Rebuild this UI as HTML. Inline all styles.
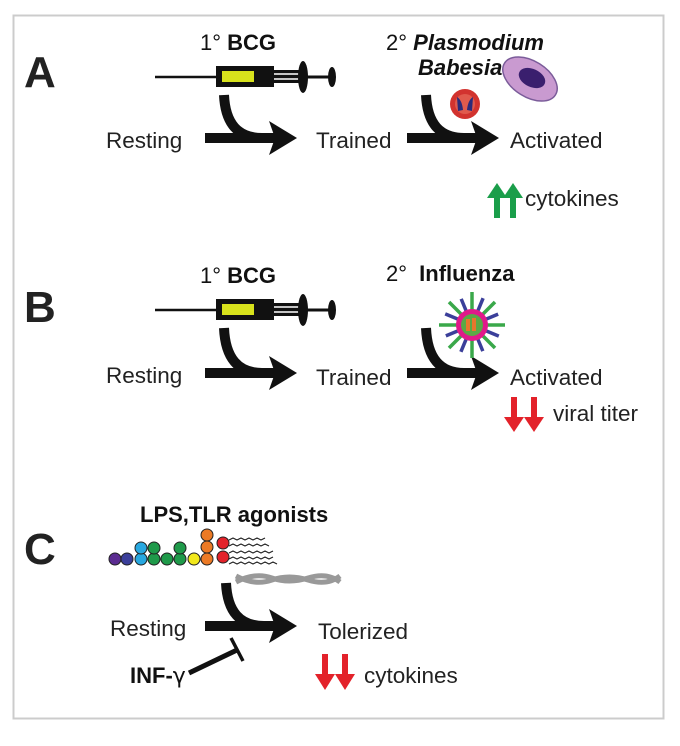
<!DOCTYPE html>
<html><head><style>
body{margin:0;background:#fff}
svg text{font-family:"Liberation Sans",sans-serif}
</style></head><body>
<svg width="680" height="741" viewBox="0 0 680 741" xmlns="http://www.w3.org/2000/svg">
<defs>
<g id="syr">
<line x1="155" y1="77" x2="218" y2="77" stroke="#111" stroke-width="2.5"/>
<rect x="216" y="66" width="58" height="21" fill="#111"/>
<rect x="222" y="71" width="32" height="11" fill="#d8e21c"/>
<rect x="274" y="70" width="28" height="13" fill="#111"/>
<line x1="274" y1="74" x2="300" y2="74" stroke="#fff" stroke-width="1.5"/>
<line x1="274" y1="79" x2="300" y2="79" stroke="#fff" stroke-width="1.5"/>
<ellipse cx="303" cy="77" rx="5" ry="16" fill="#111"/>
<line x1="303" y1="77" x2="330" y2="77" stroke="#111" stroke-width="3"/>
<ellipse cx="332" cy="77" rx="4" ry="10" fill="#111"/>
</g>
<g id="arr">
<line x1="0" y1="0" x2="72" y2="0" stroke="#111" stroke-width="10"/>
<polygon points="64,-17 92,0 64,17 70,0" fill="#111"/>
</g>
</defs>
<rect x="13.5" y="15.5" width="650" height="703" fill="none" stroke="#ccc" stroke-width="2"/>
<!-- A -->
<text x="24" y="87" font-size="44" font-weight="bold" fill="#222">A</text>
<text x="200" y="50" font-size="22" fill="#111">1° <tspan font-weight="bold">BCG</tspan></text>
<use href="#syr"/>
<path d="M224 95 Q226 138 262 138" fill="none" stroke="#111" stroke-width="10"/>
<use href="#arr" x="205" y="138"/>
<text x="106" y="148" font-size="22.5" fill="#222">Resting</text>
<text x="316" y="148" font-size="22.5" fill="#222">Trained</text>
<path d="M426 95 Q428 138 464 138" fill="none" stroke="#111" stroke-width="10"/>
<use href="#arr" x="407" y="138"/>
<text x="510" y="148" font-size="22.5" fill="#222">Activated</text>
<ellipse cx="530" cy="79" rx="30" ry="18" transform="rotate(32 530 79)" fill="#c99ad0" stroke="#7b5c9a" stroke-width="1.5"/>
<ellipse cx="532" cy="78" rx="14" ry="9" transform="rotate(25 532 78)" fill="#3a1f6e"/>
<text x="386" y="50" font-size="22" fill="#111">2° <tspan font-weight="bold" font-style="italic">Plasmodium</tspan></text>
<text x="418" y="75" font-size="22" font-weight="bold" font-style="italic" fill="#111">Babesia</text>
<circle cx="465" cy="104" r="15" fill="#d2332f"/>
<circle cx="465" cy="104" r="10" fill="#e05a4d"/>
<path d="M457 97 Q462 100 463 110 L458 111 Z M473 97 Q468 100 467 110 L472 111 Z" fill="#2b2a7a"/>
<g fill="#1a9e4a">
<rect x="494" y="196" width="6" height="22"/><polygon points="487,198 497,183 507,198"/>
<rect x="510" y="196" width="6" height="22"/><polygon points="503,198 513,183 523,198"/>
</g>
<text x="525" y="206" font-size="22.5" fill="#222">cytokines</text>
<!-- B -->
<text x="24" y="322" font-size="44" font-weight="bold" fill="#222">B</text>
<g transform="translate(0,233)">
<text x="200" y="50" font-size="22" fill="#111">1° <tspan font-weight="bold">BCG</tspan></text>
<use href="#syr"/>
<path d="M224 95 Q226 140 262 140" fill="none" stroke="#111" stroke-width="10"/>
<use href="#arr" x="205" y="140"/>
<text x="106" y="150" font-size="22.5" fill="#222">Resting</text>
<text x="316" y="152" font-size="22.5" fill="#222">Trained</text>
<path d="M426 95 Q428 140 464 140" fill="none" stroke="#111" stroke-width="10"/>
<use href="#arr" x="407" y="140"/>
<text x="510" y="152" font-size="22.5" fill="#222">Activated</text>
<text x="386" y="48" font-size="22" fill="#111">2° <tspan font-weight="bold" dx="6">Influenza</tspan></text>
</g>
<g transform="translate(472,325)">
<g stroke-width="3.5">
<line x1="0" y1="0" x2="0" y2="-33" stroke="#3aa84a"/><line x1="0" y1="0" x2="0" y2="33" stroke="#3aa84a"/>
<line x1="0" y1="0" x2="33" y2="0" stroke="#3aa84a"/><line x1="0" y1="0" x2="-33" y2="0" stroke="#3aa84a"/>
<line x1="0" y1="0" x2="23" y2="23" stroke="#3aa84a"/><line x1="0" y1="0" x2="-23" y2="-23" stroke="#3aa84a"/>
<line x1="0" y1="0" x2="23" y2="-23" stroke="#3aa84a"/><line x1="0" y1="0" x2="-23" y2="23" stroke="#3aa84a"/>
<g stroke="#3b3f9a" transform="rotate(22.5)">
<line x1="0" y1="0" x2="0" y2="-29"/><line x1="0" y1="0" x2="0" y2="29"/>
<line x1="0" y1="0" x2="29" y2="0"/><line x1="0" y1="0" x2="-29" y2="0"/>
<line x1="0" y1="0" x2="20" y2="20"/><line x1="0" y1="0" x2="-20" y2="-20"/>
<line x1="0" y1="0" x2="20" y2="-20"/><line x1="0" y1="0" x2="-20" y2="20"/>
</g></g>
<circle r="16" fill="#e0198a"/><circle r="11" fill="#5aa846"/>
<rect x="-6" y="-6" width="4" height="12" fill="#e8762c"/><rect x="0" y="-7" width="4" height="13" fill="#e8762c"/>
</g>
<g fill="#e3222a">
<rect x="511" y="397" width="6" height="22"/><polygon points="504,417 514,432 524,417"/>
<rect x="531" y="397" width="6" height="22"/><polygon points="524,417 534,432 544,417"/>
</g>
<text x="553" y="421" font-size="22.5" fill="#222">viral titer</text>
<!-- C -->
<text x="24" y="564" font-size="44" font-weight="bold" fill="#222">C</text>
<text x="140" y="522" font-size="22" font-weight="bold" fill="#111">LPS,TLR agonists</text>
<g stroke="#222" stroke-width="1">
<circle cx="115" cy="559" r="6" fill="#5b2c91"/><circle cx="127" cy="559" r="6" fill="#3b3f9a"/>
<circle cx="141" cy="559" r="6" fill="#28a8e0"/><circle cx="141" cy="548" r="6" fill="#28a8e0"/>
<circle cx="154" cy="559" r="6" fill="#1f9a4a"/><circle cx="154" cy="548" r="6" fill="#1f9a4a"/>
<circle cx="167" cy="559" r="6" fill="#1f9a4a"/><circle cx="180" cy="559" r="6" fill="#1f9a4a"/>
<circle cx="180" cy="548" r="6" fill="#1f9a4a"/><circle cx="194" cy="559" r="6" fill="#f2e81c"/>
<circle cx="207" cy="559" r="6" fill="#ec7a25"/><circle cx="207" cy="547" r="6" fill="#ec7a25"/>
<circle cx="207" cy="535" r="6" fill="#ec7a25"/><circle cx="223" cy="543" r="6" fill="#e3222a"/>
<circle cx="223" cy="557" r="6" fill="#e3222a"/>
</g>
<g fill="none" stroke="#222" stroke-width="1.2">
<path d="M229 540 l4 -2 l4 2 l4 -2 l4 2 l4 -2 l4 2 l4 -2 l4 2 l4 -2"/>
<path d="M229 546 l4 -2 l4 2 l4 -2 l4 2 l4 -2 l4 2 l4 -2 l4 2 l4 -2 l4 2"/>
<path d="M229 553 l4 -2 l4 2 l4 -2 l4 2 l4 -2 l4 2 l4 -2 l4 2 l4 -2 l4 2 l4 -2"/>
<path d="M229 559 l4 -2 l4 2 l4 -2 l4 2 l4 -2 l4 2 l4 -2 l4 2 l4 -2 l4 2 l4 -2"/>
<path d="M229 564 l4 -2 l4 2 l4 -2 l4 2 l4 -2 l4 2 l4 -2 l4 2 l4 -2 l4 2 l4 -2 l4 2"/>
</g>
<g fill="none" stroke="#999" stroke-width="5">
<path d="M236 576 Q255 586 272 580 T308 580 T340 576"/>
<path d="M236 582 Q255 572 272 578 T308 578 T340 582"/>
</g>
<path d="M226 583 Q228 626 264 626" fill="none" stroke="#111" stroke-width="10"/>
<use href="#arr" x="205" y="626"/>
<text x="110" y="636" font-size="22.5" fill="#222">Resting</text>
<text x="318" y="639" font-size="22.5" fill="#222">Tolerized</text>
<line x1="189" y1="673" x2="237" y2="650" stroke="#111" stroke-width="5"/>
<line x1="231" y1="638" x2="243" y2="661" stroke="#111" stroke-width="3.5"/>
<text x="130" y="683" font-size="22" font-weight="bold" fill="#111">INF-<tspan font-weight="normal" font-family="DejaVu Sans">γ</tspan></text>
<g fill="#e3222a">
<rect x="322" y="654" width="6" height="22"/><polygon points="315,674 325,690 335,674"/>
<rect x="342" y="654" width="6" height="22"/><polygon points="335,674 345,690 355,674"/>
</g>
<text x="364" y="683" font-size="22.5" fill="#222">cytokines</text>
</svg>
</body></html>
